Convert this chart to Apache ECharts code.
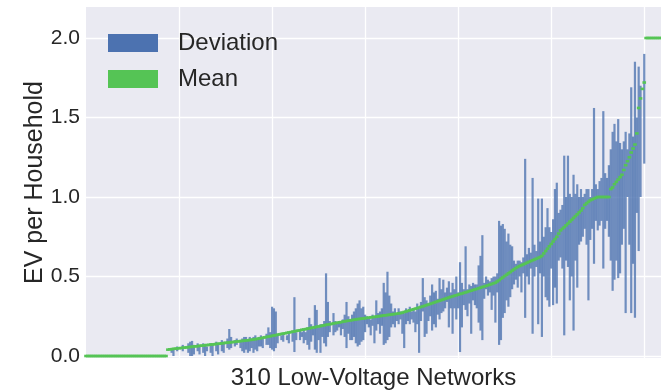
<!DOCTYPE html>
<html>
<head>
<meta charset="utf-8">
<script src="https://cdn.jsdelivr.net/npm/echarts@6/dist/echarts.min.js"></script>
<style>
  html, body { margin: 0; padding: 0; background: #fff; }
  #chart { width: 661px; height: 390px; }
</style>
</head>
<body>
<div id="chart"></div>
<script>
const n = null;

// mean EV per household for each of the 310 networks (sorted)
const meanVals = [
  0,0,0,0,0,0,0,0,0,0,
  0,0,0,0,0,0,0,0,0,0,
  0,0,0,0,0,0,0,0,0,0,
  0,0,0,0,0,0,0,0,0,0,
  0,0,0,0,0.040,0.042,0.043,0.045,0.046,0.048,
  0.049,0.050,0.052,0.053,0.054,0.056,0.057,0.058,0.060,0.061,
  0.062,0.064,0.065,0.066,0.068,0.069,0.070,0.072,0.073,0.074,
  0.076,0.077,0.078,0.080,0.081,0.083,0.084,0.085,0.087,0.088,
  0.089,0.091,0.092,0.094,0.095,0.096,0.098,0.099,0.101,0.102,
  0.104,0.106,0.108,0.110,0.112,0.115,0.117,0.120,0.122,0.124,
  0.127,0.129,0.131,0.134,0.136,0.139,0.141,0.143,0.146,0.148,
  0.150,0.153,0.155,0.158,0.160,0.162,0.165,0.167,0.169,0.172,
  0.174,0.177,0.179,0.181,0.184,0.186,0.188,0.191,0.193,0.196,
  0.198,0.200,0.202,0.205,0.207,0.209,0.211,0.213,0.216,0.218,
  0.220,0.222,0.224,0.226,0.228,0.230,0.232,0.233,0.235,0.236,
  0.238,0.240,0.241,0.243,0.245,0.246,0.248,0.250,0.251,0.253,
  0.255,0.256,0.258,0.259,0.261,0.263,0.264,0.266,0.268,0.270,
  0.273,0.277,0.280,0.284,0.287,0.291,0.294,0.298,0.301,0.305,
  0.309,0.312,0.316,0.320,0.324,0.328,0.332,0.336,0.340,0.344,
  0.348,0.352,0.356,0.360,0.364,0.368,0.372,0.375,0.379,0.382,
  0.386,0.390,0.393,0.397,0.400,0.404,0.408,0.411,0.415,0.419,
  0.422,0.426,0.430,0.434,0.437,0.441,0.445,0.449,0.453,0.457,
  0.461,0.469,0.477,0.486,0.494,0.503,0.511,0.520,0.528,0.537,
  0.545,0.553,0.560,0.566,0.571,0.576,0.581,0.587,0.592,0.597,
  0.602,0.607,0.612,0.617,0.622,0.630,0.645,0.660,0.675,0.690,
  0.705,0.720,0.735,0.750,0.770,0.790,0.800,0.810,0.822,0.833,
  0.845,0.856,0.868,0.880,0.891,0.903,0.915,0.930,0.950,0.960,
  0.970,0.980,0.985,0.990,0.995,1.000,1.000,1.000,1.000,1.000,
  1.000,1.000,1.050,1.060,1.080,1.095,1.110,1.125,1.140,1.170,
  1.200,1.225,1.250,1.280,1.305,1.330,1.400,1.560,1.620,1.680,
  1.720,2.000,2.000,2.000,2.000,2.000,2.000,2.000,2.000,2.000
];

// lower end of the deviation bar per network (null = no bar)
const devLow = [
  n,n,n,n,n,n,n,n,n,n,
  n,n,n,n,n,n,n,n,n,n,
  n,n,n,n,n,n,n,n,n,n,
  n,n,n,n,n,n,n,n,n,n,
  n,n,n,n,n,n,.02,.00,n,.03,
  n,n,.03,n,n,.02,.00,.00,.01,n,
  .03,.01,n,.02,.00,.03,n,.02,.00,n,
  .03,.01,n,.03,.02,n,.05,.04,.05,n,
  .06,.07,n,.05,.03,.02,.04,.02,.03,.05,
  .02,.04,.03,.06,.06,.05,n,.07,.07,.05,
  .04,.03,.05,.08,n,.10,.09,n,.10,.08,
  n,.09,.025,.10,n,.10,.12,.08,.10,.07,
  .04,.09,.13,.04,.02,.10,.02,.12,.08,.06,
  .12,.15,n,.13,.15,.16,.18,.13,.17,.12,
  .05,.14,.10,.10,.12,.08,.06,.07,.09,.10,
  .15,.20,.18,.13,.19,.08,.16,.20,.14,.19,
  .07,.08,.10,.12,.18,.20,.18,.22,.20,.23,
  .14,.05,.20,.22,.20,.23,.21,.15,.20,.02,
  .22,.28,.12,.14,.22,.25,.16,.20,.18,.26,
  .23,.27,.28,.30,.34,.18,.30,.14,.30,.23,
  .30,.025,.18,.32,.29,.25,.33,.14,.35,.32,
  .30,.21,.16,.10,.36,.42,.38,.40,.29,.38,
  .21,.40,.07,.10,.24,.27,.35,.31,.37,.42,
  .45,.48,.43,.50,.40,.52,.24,.50,.45,.55,
  .14,.50,.56,.20,.52,.12,.50,.37,.35,.31,
  .55,.32,.43,.33,.60,.62,.55,.13,.60,.56,
  .35,.50,.16,.60,.43,.70,.72,.75,.80,.70,
  .35,.73,.80,.58,.85,.79,.82,.85,.55,.80,
  .85,.75,.60,.41,.48,.60,.49,.52,.70,.80,
  .27,1.00,.70,.27,.58,.24,.90,.66,1.00,n,
  1.21,n,n,n,n,n,n,n,n,n
];

// upper end of the deviation bar per network
const devHigh = [
  n,n,n,n,n,n,n,n,n,n,
  n,n,n,n,n,n,n,n,n,n,
  n,n,n,n,n,n,n,n,n,n,
  n,n,n,n,n,n,n,n,n,n,
  n,n,n,n,n,n,.05,.04,n,.06,
  n,n,.07,n,n,.08,.09,.095,.07,n,
  .08,.07,n,.08,.07,.06,n,.08,.07,n,
  .09,.08,n,.10,.09,n,.11,.17,.12,n,
  .10,.11,n,.10,.11,.12,.12,.10,.12,.11,
  .12,.13,.11,.12,.13,.12,n,.14,.18,.15,
  .31,.30,.28,.14,n,.13,.14,n,.13,.15,
  n,.16,.37,.15,n,.16,.15,.17,.15,.18,
  .24,.20,.17,.32,.29,.18,.20,.20,.22,.52,
  .34,.22,n,.27,.22,.21,.22,.21,.23,.26,
  .34,.25,.22,.26,.28,.30,.33,.35,.30,.31,
  .26,.25,.24,.23,.26,.25,.35,.27,.28,.30,
  .46,.40,.53,.38,.33,.28,.30,.27,.30,.28,
  .27,.27,.30,.29,.31,.28,.30,.28,.33,.30,
  .34,.49,.37,.35,.33,.38,.45,.40,.41,.36,
  .49,.42,.48,.40,.43,.47,.40,.46,.42,.50,
  .40,.59,.46,.42,.69,.42,.45,.44,.46,.45,
  .45,.57,.63,.76,.46,.50,.48,.47,.49,.50,
  .50,.52,.85,.82,.83,.80,.72,.77,.70,.69,
  .60,.58,.60,.60,.59,.62,1.24,.64,.68,.65,
  1.12,.70,.66,.99,.72,.99,.75,.81,.93,.81,
  .78,.86,1.05,1.09,.90,.92,.95,1.26,1.00,1.26,
  1.02,1.00,1.14,1.02,1.08,1.00,1.05,1.00,1.02,1.05,
  1.05,1.00,1.05,1.56,1.08,1.05,1.10,1.12,1.54,1.15,
  1.12,1.20,1.30,1.41,1.46,1.35,1.49,1.34,1.30,1.35,
  1.41,1.30,1.40,1.69,1.38,1.85,1.50,1.82,1.70,n,
  1.90,n,n,n,n,n,n,n,n,n
];

const yTicks = [0, 0.5, 1, 1.5, 2];
const xTicks = [50, 100, 150, 200, 250, 300];

const devData = [];
for (let i = 0; i < devLow.length; i++) {
  if (devLow[i] !== null) devData.push([i, devLow[i], devHigh[i]]);
}
const meanData = meanVals.map((v, i) => [i, v]);

const font = 'Liberation Sans, Arial, sans-serif';
const textColor = '#262626';

const chart = echarts.init(document.getElementById('chart'));
chart.setOption({
  animation: false,
  backgroundColor: '#fff',
  grid: {
    left: 86, right: 0, top: 7, bottom: 32,
    outerBoundsMode: 'none', containLabel: false,
    show: true, backgroundColor: '#eaeaf2', borderWidth: 0
  },
  legend: {
    left: 108, top: 31, padding: 0,
    orient: 'vertical',
    icon: 'rect',
    itemWidth: 50, itemHeight: 18, itemGap: 12,
    formatter: '{t|{name}}',
    textStyle: {
      fontFamily: font, fontSize: 24, color: textColor,
      rich: { t: { fontFamily: font, fontSize: 24, color: textColor, padding: [0, 0, 0, 15] } }
    },
    data: [
      { name: 'Deviation', itemStyle: { color: '#4c72b0', opacity: 1 } },
      { name: 'Mean', itemStyle: { color: '#55c455', opacity: 1 } }
    ]
  },
  xAxis: {
    type: 'value', min: 0, max: 309,
    name: '310 Low-Voltage Networks', nameLocation: 'middle', nameGap: 8,
    nameMoveOverlap: false,
    nameTextStyle: { fontFamily: font, fontSize: 24, color: textColor, verticalAlign: 'top' },
    axisLine: { show: false }, axisLabel: { show: false },
    axisTick: { show: false, customValues: xTicks },
    splitLine: { show: true, lineStyle: { color: '#fff', width: 1.3 } }
  },
  yAxis: {
    type: 'value', min: -0.0125, max: 2.195,
    name: 'EV per Household', nameLocation: 'middle', nameGap: 38,
    nameMoveOverlap: false,
    nameTextStyle: { fontFamily: font, fontSize: 25, color: textColor },
    axisLine: { show: false },
    axisTick: { show: false, customValues: yTicks },
    axisLabel: {
      customValues: yTicks, margin: 6,
      fontFamily: font, fontSize: 21, color: textColor,
      formatter: v => v.toFixed(1)
    },
    splitLine: { show: true, lineStyle: { color: '#fff', width: 1.3 } }
  },
  series: [
    {
      name: 'Deviation',
      type: 'custom',
      itemStyle: { color: '#4c72b0', opacity: 0.78 },
      encode: { x: 0, y: [1, 2] },
      data: devData,
      renderItem: function (params, api) {
        const lo = api.coord([api.value(0), api.value(1)]);
        const hi = api.coord([api.value(0), api.value(2)]);
        return {
          type: 'rect',
          shape: { x: lo[0] - 1.1, y: hi[1], width: 2.2, height: lo[1] - hi[1] },
          style: api.style()
        };
      }
    },
    {
      name: 'Mean',
      type: 'scatter',
      symbol: 'rect',
      symbolSize: [3.6, 2.6],
      itemStyle: { color: '#55c455', opacity: 1 },
      data: meanData,
      z: 5
    }
  ]
});
</script>
</body>
</html>
